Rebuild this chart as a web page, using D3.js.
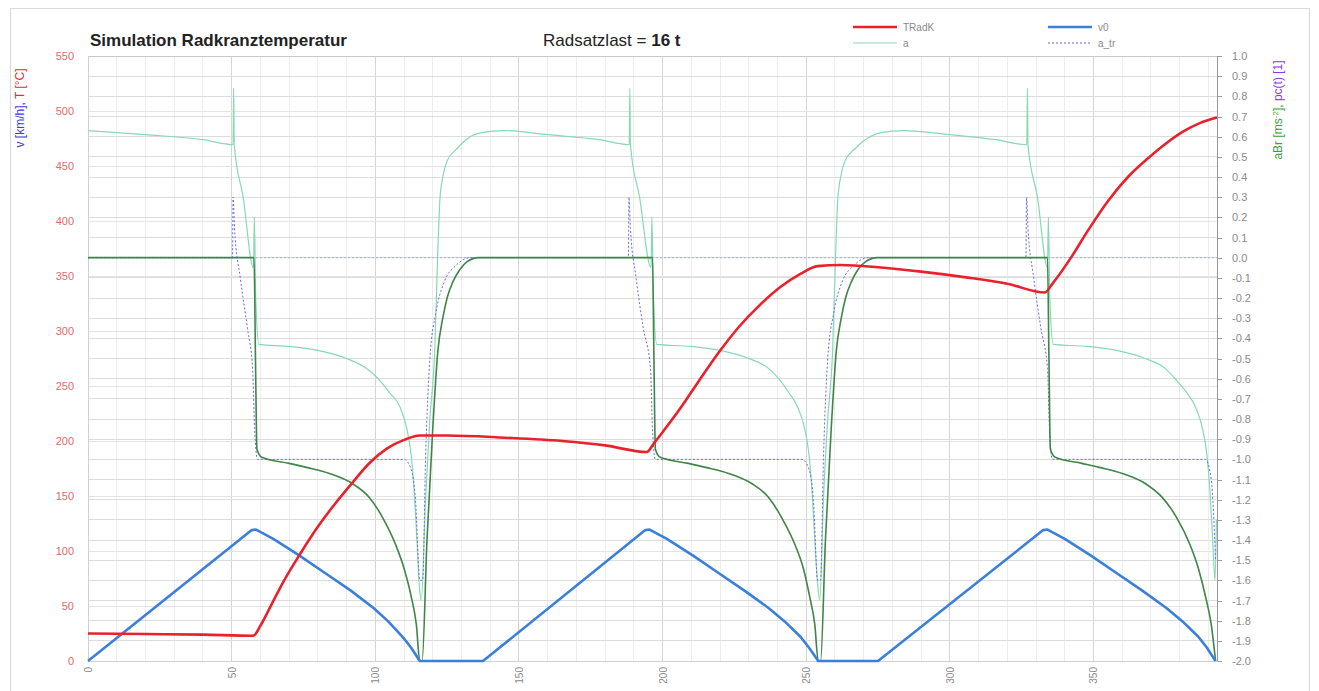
<!DOCTYPE html>
<html lang="de">
<head>
  <meta charset="UTF-8">
  <title>Simulation Radkranztemperatur</title>
  <script src="https://d3js.org/d3.v7.min.js"></script>
  <style>
    body { margin: 0; background: #fff; font-family: "Liberation Sans", Arial, sans-serif; }
    .tick line { shape-rendering: crispEdges; }
  </style>
</head>
<body>
<div id="chart"></div>
<script>
  // time axis ticks [s]
  const timeTicks = [0, 50, 100, 150, 200, 250, 300, 350];

  // v0 [km/h] -- [t, v]
  const v0Pts = [
    [0,0],[57,119],[58.5,119.5],[64.5,111],[73.5,96],[82.5,80],[91.5,64],[99.5,48],[104.5,36],[109.5,22],[112.5,12],[115.5,0],
    [137.5,0],[194,119],[195.5,119.5],[201.5,111],[210.5,96],[219.5,80],[228.5,64],[237,48],[242.5,36],[248,22],[251,12],[254.2,0],
    [275,0],[332.5,119],[334,119.5],[340,111],[349,96],[358,80],[367,64],[375.5,48],[381,36],[386.5,22],[389.5,12],[392.5,0]
  ];

  // TRadK [°C]
  const tradkPts = [
    [0,25],[20,24.5],[40,24],[57.5,23],[60,32],[64,52],[68,72],[74,98],[80,122],[86,143],[92,162],[98,180],[104,193],[110,201],[115.5,205],
    [125,205],[145,203],[165,200],[180,196],[194.5,190],
    [197,198],[200,208],[206,229],[213,256],[220,282],[227,305],[234,324],[241,340],[248,352],[254,359],[262,360],
    [275,358],[290,354],[305,349],[320,343],[333,335],
    [336,344],[342,366],[348,391],[355,418],[362,440],[369,457],[375,470],[381,481],[387,489],[393,494]
  ];

  // a [m/s²]
  const aPts = [
    [0,0.63],[20,0.61],[40,0.585],[50.5,0.56],[50.7,0.84],[50.9,0.56],[54,0.3],[57.6,-0.05],[57.9,0.2],[58.4,-0.2],[59.5,-0.43],
    [70,-0.44],[80,-0.46],[90,-0.5],[97,-0.55],[101.6,-0.61],[105,-0.67],[108.6,-0.74],[111,-0.85],[112.5,-0.98],[113.5,-1.15],
    [114.5,-1.4],[115.3,-1.62],[116,-1.7],[117.5,-1.2],[119,-0.8],[120.7,-0.46],[121.7,0.0],[122.5,0.29],[123.5,0.4],[125,0.48],
    [128.4,0.54],[132,0.59],[137,0.62],[145,0.63],
    [160,0.61],[178,0.585],[188.4,0.56],[188.6,0.84],[188.8,0.56],[192,0.3],[196,-0.05],[196.3,0.2],[196.8,-0.2],[198,-0.43],
    [210,-0.44],[220,-0.46],[230,-0.5],[237,-0.55],[241,-0.61],[244,-0.67],[247,-0.74],[249.5,-0.85],[251,-0.98],[252,-1.15],
    [253,-1.4],[254,-1.62],[254.7,-1.7],[256,-1.2],[257.5,-0.8],[259.2,-0.46],[260.2,0.0],[261,0.29],[262,0.4],[263.5,0.48],
    [267,0.54],[271,0.59],[276,0.62],[284,0.63],
    [300,0.61],[316,0.585],[326.8,0.56],[327,0.84],[327.2,0.56],[330.5,0.3],[334,-0.05],[334.3,0.2],[334.8,-0.2],[336,-0.43],
    [348,-0.44],[358,-0.46],[368,-0.5],[375,-0.55],[379,-0.61],[382.5,-0.67],[385.5,-0.74],[388,-0.85],[389.5,-0.98],[390.5,-1.15],
    [391.5,-1.4],[392.3,-1.6],[392.8,-1.3]
  ];

  // a_tr [m/s²]
  const aTrPts = [
    [0,0],[50.3,0],[50.5,0.3],[51,0.15],[53,-0.1],[55.5,-0.35],[57.3,-0.55],[58,-0.85],[59,-1.0],[110,-1.0],[112.5,-1.05],
    [114,-1.2],[115.5,-1.6],[116.5,-1.6],[117.5,-1.0],[119,-0.5],[121,-0.28],[124,-0.12],[128,-0.04],[133,0],
    [188.1,0],[188.3,0.3],[188.8,0.15],[190.8,-0.1],[193.3,-0.35],[195.8,-0.55],[196.5,-0.85],[197.5,-1.0],[248.5,-1.0],[251,-1.05],
    [252.5,-1.2],[254,-1.6],[255,-1.6],[256,-1.0],[257.5,-0.5],[259.5,-0.28],[262.5,-0.12],[266.5,-0.04],[271.5,0],
    [326.5,0],[326.7,0.3],[327.2,0.15],[329.2,-0.1],[331.7,-0.35],[334,-0.55],[334.7,-0.85],[335.7,-1.0],[389,-1.0],[391,-1.1],[392.5,-1.5]
  ];

  // aBr [m/s²]
  const aBrPts = [
    [0,0],[57.8,0],[58.3,-0.5],[58.8,-0.95],[60.5,-0.99],[70,-1.02],[76,-1.04],[84,-1.07],[92,-1.12],[98,-1.19],[102.6,-1.29],
    [107,-1.42],[110,-1.54],[112.5,-1.68],[114.3,-1.82],[115.5,-2.0],[116.3,-2.0],[118,-1.4],[120,-0.85],[121.8,-0.46],[123.5,-0.3],
    [125,-0.2],[127,-0.12],[129.4,-0.06],[132,-0.02],[136,0],
    [196.5,0],[197,-0.5],[197.5,-0.95],[199.2,-0.99],[209,-1.02],[215,-1.04],[223,-1.07],[231,-1.12],[237,-1.19],[241.5,-1.29],
    [246,-1.42],[249,-1.54],[251.2,-1.68],[253,-1.82],[254.2,-2.0],[255,-2.0],[256.7,-1.4],[258.7,-0.85],[260.5,-0.46],[262.2,-0.3],
    [263.7,-0.2],[265.7,-0.12],[268,-0.06],[270.7,-0.02],[274.7,0],
    [334,0],[334.5,-0.5],[335,-0.95],[336.7,-0.99],[346,-1.02],[352,-1.04],[360,-1.07],[368,-1.12],[374,-1.19],[379,-1.29],
    [383.5,-1.42],[386.5,-1.54],[389,-1.68],[391,-1.82],[392.5,-2.0]
  ];

  // pc(t) [1]
  const pcPts = [[0,0],[393,0]];

  const W = 1319, H = 691;
  const plot = {left: 88, right: 1217, top: 56, bottom: 661};

  const x = d3.scaleLinear().domain([0, 393]).range([plot.left, plot.right]);
  const yL = d3.scaleLinear().domain([0, 550]).range([plot.bottom, plot.top]);
  const yR = d3.scaleLinear().domain([-2, 1]).range([plot.bottom, plot.top]);

  const svg = d3.select("#chart").append("svg")
    .attr("width", W)
    .attr("height", H)
    .style("font-family", "Liberation Sans, Arial, sans-serif");

  // outer frame
  svg.append("rect")
    .attr("x", 10.5).attr("y", 8.5)
    .attr("width", 1299).attr("height", 700)
    .attr("fill", "#fff")
    .attr("stroke", "#d9d9d9");

  const grid = svg.append("g");

  // vertical grid
  const minorX = d3.range(10, 393, 10).filter(d => d % 50 != 0);
  grid.selectAll(".vmin").data(minorX).join("line")
    .attr("x1", d => x(d)).attr("x2", d => x(d))
    .attr("y1", plot.top).attr("y2", plot.bottom)
    .attr("stroke", "#ededed").attr("shape-rendering", "crispEdges");
  grid.selectAll(".vmaj").data(timeTicks).join("line")
    .attr("x1", d => x(d)).attr("x2", d => x(d))
    .attr("y1", plot.top).attr("y2", plot.bottom)
    .attr("stroke", "#d4d4d4").attr("shape-rendering", "crispEdges");

  // horizontal grid (right axis every 0.1 and left axis every 50)
  const rTicks = d3.range(-20, 11).map(i => i / 10);
  const lTicks = d3.range(0, 551, 50);
  grid.selectAll(".hr").data(rTicks).join("line")
    .attr("x1", plot.left).attr("x2", plot.right)
    .attr("y1", d => yR(d)).attr("y2", d => yR(d))
    .attr("stroke", "#dcdcdc").attr("shape-rendering", "crispEdges");
  grid.selectAll(".hl").data(lTicks).join("line")
    .attr("x1", plot.left).attr("x2", plot.right)
    .attr("y1", d => yL(d)).attr("y2", d => yL(d))
    .attr("stroke", "#e4e4e4").attr("shape-rendering", "crispEdges");

  // axes
  const leftAxis = svg.append("g")
    .attr("transform", `translate(${plot.left},0)`)
    .call(d3.axisLeft(yL).tickValues(lTicks).tickSize(0).tickPadding(14));
  leftAxis.select(".domain").attr("stroke", "#d0d0d0");
  leftAxis.selectAll("text").attr("fill", "#e26a6a").style("font-size", "11px");

  const rightAxis = svg.append("g")
    .attr("transform", `translate(${plot.right},0)`)
    .call(d3.axisRight(yR).tickValues(rTicks).tickSize(5).tickPadding(10)
      .tickFormat(d => (Math.abs(d) < 1e-9 ? 0 : d).toFixed(1)));
  rightAxis.select(".domain").attr("stroke", "#9a9a9a");
  rightAxis.selectAll("line").attr("stroke", "#9a9a9a");
  rightAxis.selectAll("text").attr("fill", "#8a8a8a").style("font-size", "11px");

  const bottomAxis = svg.append("g")
    .attr("transform", `translate(0,${plot.bottom})`)
    .call(d3.axisBottom(x).tickValues(timeTicks).tickSize(0).tickFormat(d3.format("d")));
  bottomAxis.select(".domain").attr("stroke", "#d0d0d0");
  bottomAxis.selectAll("text")
    .attr("fill", "#8a8a8a").style("font-size", "10px")
    .attr("transform", "rotate(-90)")
    .attr("text-anchor", "end")
    .attr("x", -6).attr("y", 0).attr("dy", "0.35em");

  // top border of plot
  svg.append("line")
    .attr("x1", plot.left).attr("x2", plot.right)
    .attr("y1", plot.top).attr("y2", plot.top)
    .attr("stroke", "#c8c8c8").attr("shape-rendering", "crispEdges");

  // series: straight segments for v0, smoothed for the others
  const lineV = d3.line().x(d => x(d[0])).y(d => yL(d[1]));
  const lineL = d3.line().x(d => x(d[0])).y(d => yL(d[1])).curve(d3.curveMonotoneX);
  const lineR = d3.line().x(d => x(d[0])).y(d => yR(d[1])).curve(d3.curveMonotoneX);

  const series = svg.append("g").attr("fill", "none").attr("stroke-linejoin", "round");

  series.append("path").datum(aPts).attr("d", lineR)
    .attr("stroke", "#86d9b4").attr("stroke-width", 1.2);
  series.append("path").datum(pcPts).attr("d", lineR)
    .attr("stroke", "#a8aee6").attr("stroke-width", 1).attr("stroke-dasharray", "2,2");
  series.append("path").datum(aTrPts).attr("d", lineR)
    .attr("stroke", "#6a6adc").attr("stroke-width", 1).attr("stroke-dasharray", "2,2");
  series.append("path").datum(aBrPts).attr("d", lineR)
    .attr("stroke", "#3f8548").attr("stroke-width", 1.6);
  series.append("path").datum(v0Pts).attr("d", lineV)
    .attr("stroke", "#3b7fdc").attr("stroke-width", 2.6);
  series.append("path").datum(tradkPts).attr("d", lineL)
    .attr("stroke", "#e8212b").attr("stroke-width", 2.6);

  // titles
  svg.append("text")
    .attr("x", 90).attr("y", 46)
    .style("font-size", "17px").style("font-weight", "bold").attr("fill", "#222")
    .text("Simulation Radkranztemperatur");
  const sub = svg.append("text")
    .attr("x", 543).attr("y", 46)
    .style("font-size", "17px").attr("fill", "#222");
  sub.append("tspan").text("Radsatzlast = ");
  sub.append("tspan").style("font-weight", "bold").text("16 t");

  // axis titles
  const lt = svg.append("text")
    .attr("transform", "translate(24,108) rotate(-90)")
    .attr("text-anchor", "middle")
    .style("font-size", "12px");
  lt.append("tspan").attr("fill", "#3a3ae0").text("v [km/h], ");
  lt.append("tspan").attr("fill", "#e03030").text("T [°C]");

  const rt = svg.append("text")
    .attr("transform", "translate(1282,110) rotate(-90)")
    .attr("text-anchor", "middle")
    .style("font-size", "12px");
  rt.append("tspan").attr("fill", "#3aa03a").text("aBr [ms");
  rt.append("tspan").attr("fill", "#3aa03a").attr("baseline-shift", "super").style("font-size", "8px").text("-2");
  rt.append("tspan").attr("fill", "#3aa03a").text("], ");
  rt.append("tspan").attr("fill", "#8a3ae0").text("pc(t) [1]");

  // legend
  const legendItems = [
    {name: "TRadK", x: 853, y: 27, color: "#e8212b", width: 2.6, dash: null},
    {name: "a", x: 853, y: 43, color: "#86d9b4", width: 1.2, dash: null},
    {name: "v0", x: 1048, y: 27, color: "#3b7fdc", width: 2.6, dash: null},
    {name: "a_tr", x: 1048, y: 43, color: "#6a6adc", width: 1, dash: "2,2"}
  ];
  const lg = svg.append("g").selectAll("g").data(legendItems).join("g")
    .attr("transform", d => `translate(${d.x},${d.y})`);
  lg.append("line")
    .attr("x1", 0).attr("x2", 44).attr("y1", 0).attr("y2", 0)
    .attr("stroke", d => d.color).attr("stroke-width", d => d.width)
    .attr("stroke-dasharray", d => d.dash);
  lg.append("text")
    .attr("x", 50).attr("dy", "0.35em")
    .style("font-size", "10px").attr("fill", "#8a8a8a")
    .text(d => d.name);
</script>
</body>
</html>
